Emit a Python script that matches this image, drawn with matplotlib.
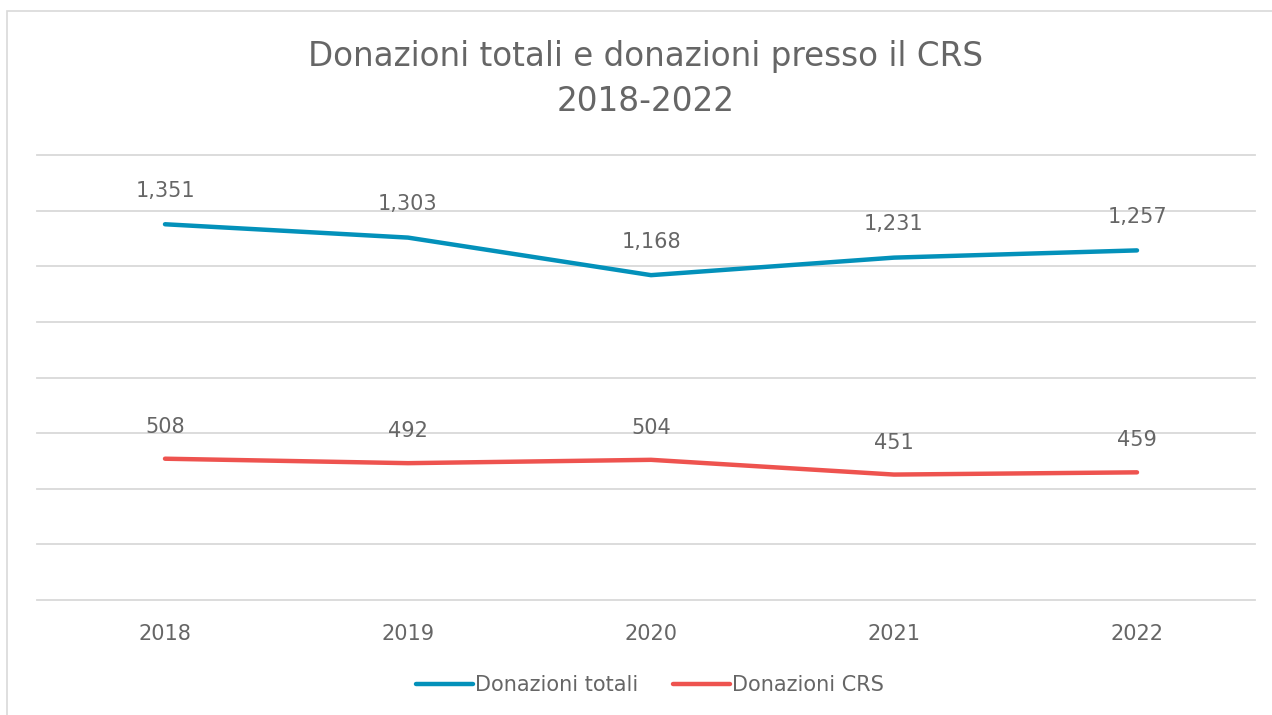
import matplotlib.pyplot as plt
from matplotlib.patches import Rectangle

years = ['2018', '2019', '2020', '2021', '2022']
totali = [1351, 1303, 1168, 1231, 1257]
crs = [508, 492, 504, 451, 459]

blue = '#0391BA'
red = '#EE534F'
text_gray = '#666666'

plt.rcParams['font.family'] = ['DejaVu Sans']

fig = plt.figure(figsize=(12.72, 7.15), dpi=100)
ax = fig.add_axes([37 / 1272, 1 - 600 / 715, (1255 - 37) / 1272, (600 - 155) / 715])

# chart area border
fig.patches.append(Rectangle((7 / 1272, -0.01), 1.1, 1 - 11 / 715 + 0.01, transform=fig.transFigure,
                             fill=False, edgecolor='#D9D9D9', linewidth=1.2))

x = range(len(years))
ax.plot(x, totali, color=blue, linewidth=3.2, solid_capstyle='round', label='Donazioni totali')
ax.plot(x, crs, color=red, linewidth=3.2, solid_capstyle='round', label='Donazioni CRS')

for i, v in enumerate(totali):
    ax.annotate(f'{v:,}', (i, v), xytext=(0, 24), textcoords='offset points',
                ha='center', va='center', fontsize=15, color=text_gray)
for i, v in enumerate(crs):
    ax.annotate(f'{v:,}', (i, v), xytext=(0, 23), textcoords='offset points',
                ha='center', va='center', fontsize=15, color=text_gray)

ax.set_xlim(-128 / 243, 4 + 118 / 243)
ax.set_ylim(0, 1600)
ax.set_yticks(range(0, 1601, 200))
ax.set_yticklabels([])
ax.set_xticks(list(x))
ax.set_xticklabels(years, fontsize=15, color=text_gray)
ax.tick_params(axis='both', length=0)
ax.tick_params(axis='x', pad=17)
ax.grid(axis='y', color='#D9D9D9', linewidth=1.3)
for gl in ax.get_ygridlines():
    gl.set_clip_on(False)
ax.set_axisbelow(True)
for s in ax.spines.values():
    s.set_visible(False)

fig.text(646 / 1272, 1 - 79 / 715, 'Donazioni totali e donazioni presso il CRS\n2018-2022',
         ha='center', va='center', fontsize=23.5, color=text_gray, linespacing=1.45)

fig.legend(loc='center', bbox_to_anchor=(650 / 1272, 1 - 685 / 715), ncol=2, frameon=False,
           fontsize=15, labelcolor=text_gray, handlelength=2.7, handletextpad=0.1,
           columnspacing=1.7)

fig.savefig('out.png', dpi=100)
